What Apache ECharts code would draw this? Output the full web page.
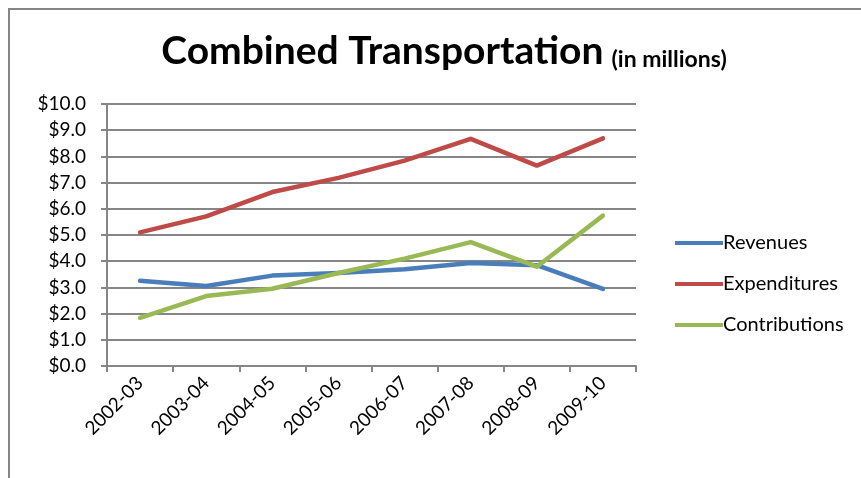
<!DOCTYPE html>
<html>
<head>
<meta charset="utf-8">
<script src="https://cdn.jsdelivr.net/npm/echarts@6/dist/echarts.min.js"></script>
<style>
html,body{margin:0;padding:0;background:#fff;}
#chart{width:861px;height:478px;}
</style>
</head>
<body>
<div id="chart"></div>
<script>
const categories = ['2002-03','2003-04','2004-05','2005-06','2006-07','2007-08','2008-09','2009-10'];
const revenues = [3.25, 3.05, 3.45, 3.55, 3.69, 3.93, 3.85, 2.94];
const expenditures = [5.10, 5.71, 6.64, 7.18, 7.84, 8.67, 7.65, 8.69];
const contributions = [1.84, 2.67, 2.95, 3.55, 4.10, 4.73, 3.79, 5.74];
const seriesNames = ['Revenues','Expenditures','Contributions'];
const colors = ['#4A7EBB','#BE4B48','#98B954'];

const FONT = 'Lato';
const chart = echarts.init(document.getElementById('chart'));
const mk = (name, data, color) => ({
  name, type: 'line', data, showSymbol: false, symbol: 'none',
  lineStyle: {width: 4.5, color, cap: 'round', join: 'round'},
  itemStyle: {color}, emphasis: {disabled: true}, animation: false
});
chart.setOption({
  animation: false,
  textStyle: {fontFamily: FONT},
  graphic: [{
    type: 'rect', shape: {x: 9, y: 9, width: 900, height: 520},
    style: {fill: 'none', stroke: '#868686', lineWidth: 2}, silent: true
  }],
  title: {
    text: '{a|Combined Transportation}{s| }{b|(in millions)}',
    left: 439, textAlign: 'center', top: 20,
    textStyle: {rich: {
      a: {fontFamily: FONT, fontWeight: 'bold', fontSize: 39, color: '#000', verticalAlign: 'bottom', lineHeight: 46},
      s: {fontSize: 12, width: 8, verticalAlign: 'bottom', lineHeight: 46},
      b: {fontFamily: FONT, fontWeight: 'bold', fontSize: 23, color: '#000', verticalAlign: 'bottom', lineHeight: 41}
    }}
  },
  legend: {
    orient: 'vertical', left: 670, top: 228,
    itemWidth: 48, itemHeight: 4, itemGap: 21, icon: 'rect',
    textStyle: {fontFamily: FONT, fontSize: 20, color: '#000', padding: [0,0,0,-5]},
    data: seriesNames
  },
  grid: {left: 107, right: 225, top: 104, bottom: 112, containLabel: false},
  xAxis: {
    type: 'category', data: categories, boundaryGap: true,
    axisLine: {lineStyle: {color: '#868686', width: 2}},
    axisTick: {show: true, length: 6, lineStyle: {color: '#868686', width: 2}, alignWithLabel: false},
    axisLabel: {rotate: 45, fontFamily: FONT, fontSize: 19, color: '#000', margin: 14, interval: 0}
  },
  yAxis: {
    type: 'value', min: 0, max: 10, interval: 1,
    axisLine: {show: true, lineStyle: {color: '#868686', width: 2}},
    axisTick: {show: true, length: 6, lineStyle: {color: '#868686', width: 2}},
    splitLine: {lineStyle: {color: '#868686', width: 2}},
    axisLabel: {fontFamily: FONT, fontSize: 19, color: '#000', margin: 21,
      formatter: v => '$' + v.toFixed(1)}
  },
  series: [
    mk(seriesNames[0], revenues, colors[0]),
    mk(seriesNames[1], expenditures, colors[1]),
    mk(seriesNames[2], contributions, colors[2])
  ]
});
</script>
</body>
</html>
